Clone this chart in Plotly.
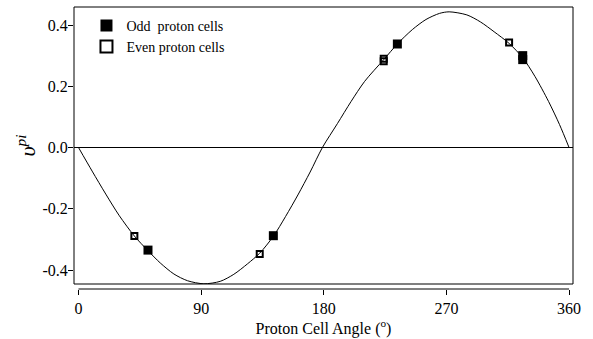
import plotly.graph_objects as go

curve_angle = [0, 10, 20, 30, 41, 51, 60, 70, 80, 92, 104, 114, 124, 133, 143, 152, 161, 170, 179,
               190, 200, 210, 224, 234, 245, 255, 265, 272, 285, 295, 305, 316, 326, 335, 345, 353, 360]
curve_v = [0.0, -0.077, -0.152, -0.223, -0.289, -0.337, -0.377, -0.413, -0.435, -0.445, -0.437,
           -0.414, -0.380, -0.345, -0.290, -0.225, -0.155, -0.080, 0.0,
           0.078, 0.150, 0.216, 0.287, 0.338, 0.385, 0.418, 0.438, 0.443, 0.433, 0.410, 0.378,
           0.340, 0.293, 0.232, 0.150, 0.075, 0.0]

odd_angle = [51, 143, 234, 326, 326]
odd_v = [-0.335, -0.288, 0.338, 0.287, 0.300]

even_angle = [41, 133, 224, 224, 316]
even_v = [-0.289, -0.348, 0.282, 0.290, 0.343]

x_ticks = [0, 90, 180, 270, 360]
y_ticks = [-0.4, -0.2, 0.0, 0.2, 0.4]
y_tick_text = ["-0.4", "-0.2", "0.0", "0.2", "0.4"]

FONT = "Liberation Serif, Times New Roman, serif"

fig = go.Figure()
fig.add_trace(go.Scatter(x=curve_angle, y=curve_v, mode="lines",
                         line=dict(color="black", width=1, shape="spline", smoothing=0.8),
                         showlegend=False, hoverinfo="skip"))
fig.add_trace(go.Scatter(x=odd_angle, y=odd_v, mode="markers", name="Odd  proton cells",
                         marker=dict(symbol="square", size=9, color="black",
                                     line=dict(color="black", width=0))))
fig.add_trace(go.Scatter(x=even_angle, y=even_v, mode="markers", name="Even proton cells",
                         marker=dict(symbol="square-open", size=6, color="black",
                                     line=dict(color="black", width=2))))

ydom0 = 5 / 282

fig.update_layout(
    width=593, height=339,
    margin=dict(l=74, r=20, t=7, b=50),
    paper_bgcolor="white", plot_bgcolor="white",
    font=dict(family=FONT, size=16, color="black"),
    xaxis=dict(range=[-3.3, 362.9], tickvals=x_ticks, ticks="outside", ticklen=5,
               tickcolor="black", showgrid=False, zeroline=False, showline=False,
               anchor="free", position=0,
               title=dict(text="Proton Cell Angle (<sup>o</sup>)", standoff=4,
                          font=dict(size=16))),
    yaxis=dict(range=[-0.4457, 0.4588], domain=[ydom0, 1], tickvals=y_ticks,
               ticktext=y_tick_text, ticks="outside", ticklen=5, tickcolor="black",
               ticklabelstandoff=-3,
               showgrid=False, zeroline=True, zerolinecolor="black", zerolinewidth=1,
               showline=False,
               title=dict(text="<i>υ</i><sup><i>pi</i></sup>", standoff=0,
                          font=dict(size=22))),
    legend=dict(x=0.025, y=0.99, xanchor="left", yanchor="top",
                bgcolor="rgba(0,0,0,0)", font=dict(size=14, family=FONT),
                itemsizing="constant", tracegroupgap=0),
    shapes=[
        dict(type="rect", xref="paper", yref="paper", x0=0, x1=1, y0=ydom0, y1=1,
             line=dict(color="black", width=1), layer="above"),
        dict(type="line", xref="x", yref="paper", x0=0, x1=360, y0=0, y1=0,
             line=dict(color="black", width=1)),
    ],
)

fig.write_html("out.html")
